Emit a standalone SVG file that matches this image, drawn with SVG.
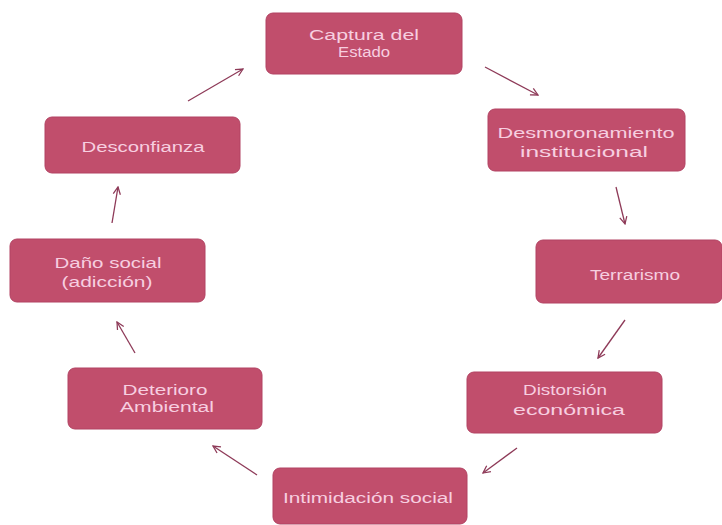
<svg xmlns="http://www.w3.org/2000/svg" width="722" height="525" viewBox="0 0 722 525">
<style>
.box{fill:#c14e6c;stroke:#b24262;stroke-width:1}
.t{font-family:"Liberation Sans",Arial,sans-serif;font-size:14px;fill:#f7cfe0;text-anchor:middle}
.c{fill:none;stroke:#8e3a58;stroke-width:1.3;marker-end:url(#ah)}
</style>
<defs>
<marker id="ah" viewBox="0 0 10 10" refX="9" refY="5" markerWidth="9" markerHeight="9" markerUnits="userSpaceOnUse" orient="auto">
<path d="M1,1 L9,5 L1,9" fill="none" stroke="#8e3a58" stroke-width="1.4"/>
</marker>
</defs>
<rect width="722" height="525" fill="#ffffff"/>
<g id="connectors">
<line class="c" x1="485" y1="67" x2="538" y2="95"/>
<line class="c" x1="616" y1="187" x2="625" y2="224"/>
<line class="c" x1="625" y1="320" x2="598" y2="358"/>
<line class="c" x1="517" y1="448" x2="483" y2="473"/>
<line class="c" x1="257" y1="475" x2="213" y2="446"/>
<line class="c" x1="135" y1="353" x2="117" y2="322"/>
<line class="c" x1="112" y1="223" x2="118" y2="187"/>
<line class="c" x1="188" y1="101" x2="243" y2="69"/>
</g>
<g id="captura">
<rect class="box" x="266" y="13" width="196" height="61" rx="7"/>
<text class="t" x="364" y="40" textLength="110" lengthAdjust="spacingAndGlyphs">Captura del</text>
<text class="t" x="364" y="57" textLength="52" lengthAdjust="spacingAndGlyphs">Estado</text>
</g>
<g id="desmoronamiento">
<rect class="box" x="488" y="109" width="197" height="62" rx="7"/>
<text class="t" x="586" y="138" textLength="177" lengthAdjust="spacingAndGlyphs">Desmoronamiento</text>
<text class="t" x="584" y="157" textLength="128" lengthAdjust="spacingAndGlyphs">institucional</text>
</g>
<g id="terrarismo">
<rect class="box" x="536" y="240" width="186" height="63" rx="7"/>
<text class="t" x="635" y="280" textLength="90" lengthAdjust="spacingAndGlyphs">Terrarismo</text>
</g>
<g id="distorsion">
<rect class="box" x="467" y="372" width="195" height="61" rx="7"/>
<text class="t" x="565" y="395" textLength="84" lengthAdjust="spacingAndGlyphs">Distorsión</text>
<text class="t" x="569" y="415" textLength="112" lengthAdjust="spacingAndGlyphs">económica</text>
</g>
<g id="intimidacion">
<rect class="box" x="273" y="468" width="194" height="56" rx="7"/>
<text class="t" x="368" y="503" textLength="170" lengthAdjust="spacingAndGlyphs">Intimidación social</text>
</g>
<g id="deterioro">
<rect class="box" x="68" y="368" width="194" height="61" rx="7"/>
<text class="t" x="165" y="395" textLength="85" lengthAdjust="spacingAndGlyphs">Deterioro</text>
<text class="t" x="167" y="412" textLength="94" lengthAdjust="spacingAndGlyphs">Ambiental</text>
</g>
<g id="dano">
<rect class="box" x="10" y="239" width="195" height="63" rx="7"/>
<text class="t" x="108" y="268" textLength="107" lengthAdjust="spacingAndGlyphs">Daño social</text>
<text class="t" x="107" y="287" textLength="91" lengthAdjust="spacingAndGlyphs">(adicción)</text>
</g>
<g id="desconfianza">
<rect class="box" x="45" y="117" width="195" height="56" rx="7"/>
<text class="t" x="143" y="152" textLength="123" lengthAdjust="spacingAndGlyphs">Desconfianza</text>
</g>
</svg>
